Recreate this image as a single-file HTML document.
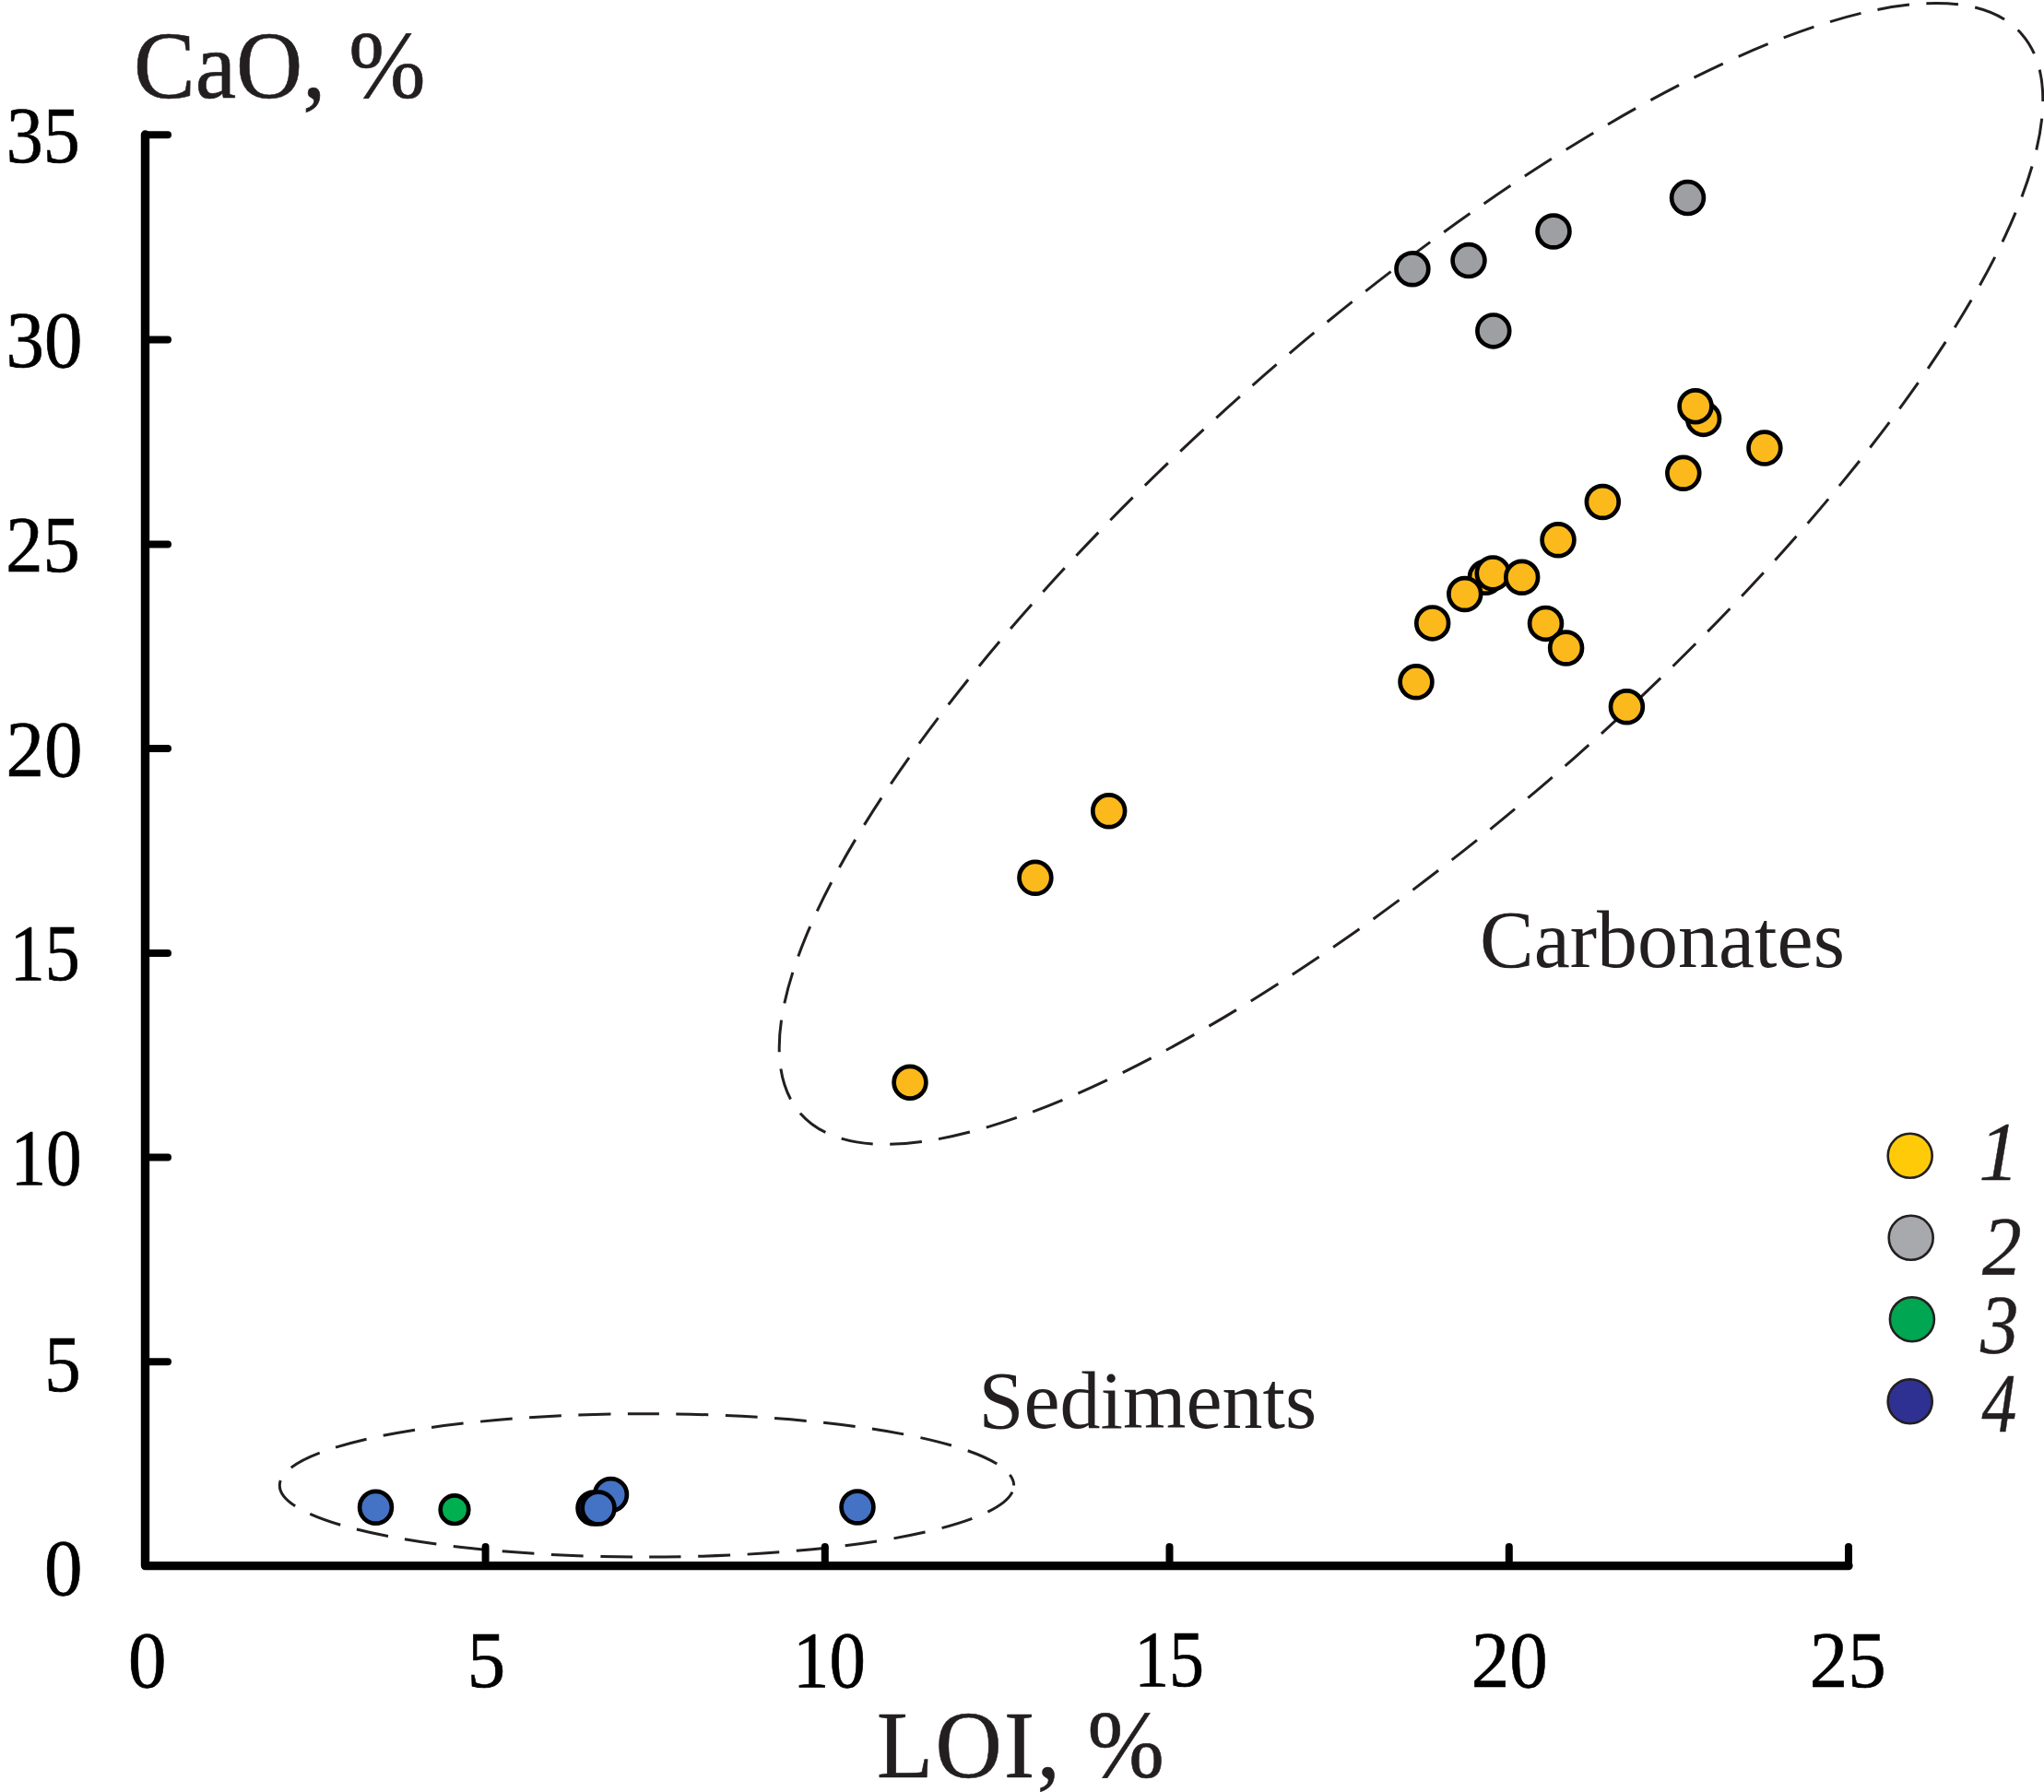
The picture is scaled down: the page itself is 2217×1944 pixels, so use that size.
<!DOCTYPE html>
<html lang="en"><head><meta charset="utf-8"><title>CaO vs LOI</title>
<style>
html,body{margin:0;padding:0;background:#fff;}
body{width:2217px;height:1944px;overflow:hidden;}
svg{display:block;}
text{font-family:"Liberation Serif","Times New Roman",serif;}
.tick{font-size:83px;fill:#000;stroke:#000;stroke-width:0.6px;}
.ttl{font-size:100px;fill:#231f20;stroke:#231f20;stroke-width:0.6px;}
.lab{font-size:88px;fill:#231f20;}
.leg{font-size:90px;font-style:italic;fill:#231f20;stroke:#231f20;stroke-width:0.5px;}
.ax{stroke:#000;stroke-width:9.4;fill:none;stroke-linecap:round;stroke-linejoin:round;}
.tk{stroke:#000;stroke-width:8;fill:none;stroke-linecap:round;}
.dash{stroke:#231f20;stroke-width:3;fill:none;stroke-dasharray:34.7 18.5;}
.y{fill:#fcb91c;stroke:#000;stroke-width:4.7;}
.g{fill:#9e9fa2;stroke:#000;stroke-width:4.7;}
.b{fill:#4472c4;stroke:#000;stroke-width:4.7;}
.gr{fill:#00b050;stroke:#000;stroke-width:4.7;}
.lg{stroke:#231f20;stroke-width:2.6;}
</style></head><body>
<svg width="2217" height="1944" viewBox="0 0 2217 1944">
<rect width="2217" height="1944" fill="#fff"/>
<ellipse class="dash" stroke-dashoffset="9" cx="1530.5" cy="622.4" rx="884" ry="267" transform="rotate(-41.5 1530.5 622.4)"/>
<ellipse class="dash" stroke-dashoffset="-7.5" cx="701.5" cy="1611.4" rx="398.2" ry="77.7"/>
<path class="ax" d="M157.5 146 V1698.6 H2005"/>
<path class="tk" d="M157.5 1477.3 H182"/>
<path class="tk" d="M157.5 1255.5 H182"/>
<path class="tk" d="M157.5 1034.0 H182"/>
<path class="tk" d="M157.5 812.1 H182"/>
<path class="tk" d="M157.5 590.4 H182"/>
<path class="tk" d="M157.5 368.5 H182"/>
<path class="tk" d="M157.5 146.2 H182"/>
<path class="tk" d="M526.6 1698.6 V1678"/>
<path class="tk" d="M894.8 1698.6 V1678"/>
<path class="tk" d="M1268.5 1698.6 V1678"/>
<path class="tk" d="M1636.8 1698.6 V1678"/>
<path class="tk" d="M2005 1698.6 V1678"/>
<text class="tick" transform="translate(89.6 1730.2) scale(1 1.055)" text-anchor="end">0</text>
<text class="tick" transform="translate(87.6 1508.9) scale(0.95 1.055)" text-anchor="end">5</text>
<text class="tick" transform="translate(88.7 1285.1) scale(0.93 1.055)" text-anchor="end">10</text>
<text class="tick" transform="translate(86.6 1063.4) scale(0.915 1.055)" text-anchor="end">15</text>
<text class="tick" transform="translate(89.6 841.7) scale(1 1.055)" text-anchor="end">20</text>
<text class="tick" transform="translate(86.8 620.0) scale(0.97 1.055)" text-anchor="end">25</text>
<text class="tick" transform="translate(89.6 398.1) scale(1 1.055)" text-anchor="end">30</text>
<text class="tick" transform="translate(86.8 176.3) scale(0.965 1.055)" text-anchor="end">35</text>
<text class="tick" transform="translate(159.8 1829.8) scale(1 1.055)" text-anchor="middle">0</text>
<text class="tick" transform="translate(527.5 1829.8) scale(1 1.055)" text-anchor="middle">5</text>
<text class="tick" transform="translate(899.5 1829.5) scale(0.95 1.055)" text-anchor="middle">10</text>
<text class="tick" transform="translate(1268.1 1828.8) scale(0.915 1.055)" text-anchor="middle">15</text>
<text class="tick" transform="translate(1637.3 1829.5) scale(1 1.055)" text-anchor="middle">20</text>
<text class="tick" transform="translate(2004.3 1829.5) scale(1 1.055)" text-anchor="middle">25</text>
<text class="ttl" transform="translate(145.0 105.7) scale(1 1.04)">CaO, %</text>
<text class="ttl" transform="translate(951.0 1927.5) scale(1 1.04)" letter-spacing="2.4">LOI, %</text>
<text class="lab" x="1605" y="1049">Carbonates</text>
<text class="lab" x="1061.5" y="1549">Sediments</text>
<circle class="g" cx="1531.9" cy="291.8" r="17.4"/>
<circle class="g" cx="1593" cy="282.6" r="17.4"/>
<circle class="g" cx="1685" cy="251" r="17.4"/>
<circle class="g" cx="1830.5" cy="214.6" r="17.4"/>
<circle class="g" cx="1619.8" cy="358.9" r="17.4"/>
<circle class="y" cx="1847.6" cy="454.4" r="17.4"/>
<circle class="y" cx="1839" cy="440.7" r="17.4"/>
<circle class="y" cx="1913.9" cy="486.1" r="17.4"/>
<circle class="y" cx="1825.8" cy="513.3" r="17.4"/>
<circle class="y" cx="1738.3" cy="544.5" r="17.4"/>
<circle class="y" cx="1690" cy="585.8" r="17.4"/>
<circle class="y" cx="1611.4" cy="626.3" r="17.4"/>
<circle class="y" cx="1588.8" cy="644.5" r="17.4"/>
<circle class="y" cx="1619.2" cy="621.9" r="17.4"/>
<circle class="y" cx="1650.7" cy="626.3" r="17.4"/>
<circle class="y" cx="1553.7" cy="675.9" r="17.4"/>
<circle class="y" cx="1676.5" cy="676.4" r="17.4"/>
<circle class="y" cx="1698.6" cy="703" r="17.4"/>
<circle class="y" cx="1536" cy="739.8" r="17.4"/>
<circle class="y" cx="1764.4" cy="766.8" r="17.4"/>
<circle class="y" cx="1202.7" cy="879.8" r="17.4"/>
<circle class="y" cx="1122.9" cy="952.3" r="17.4"/>
<circle class="y" cx="987" cy="1174.2" r="17.4"/>
<circle class="b" cx="407.5" cy="1635.3" r="17.4"/>
<circle class="gr" cx="493" cy="1637.7" r="15.3"/>
<circle class="b" cx="662.5" cy="1621.5" r="17.4"/>
<circle cx="644" cy="1636" r="17.4" fill="#1f2a5a" stroke="#000" stroke-width="4.7"/>
<circle class="b" cx="649.1" cy="1636" r="17.4"/>
<circle class="b" cx="930" cy="1635" r="17.4"/>
<circle class="lg" cx="2071.7" cy="1253.8" r="24" fill="#ffcb08"/>
<text class="leg" transform="translate(2146.5 1279.6) scale(0.96 1)">1</text>
<circle class="lg" cx="2072.7" cy="1342.8" r="24" fill="#a7a9ac"/>
<text class="leg" transform="translate(2150 1382.7) scale(0.95 1)">2</text>
<circle class="lg" cx="2073.9" cy="1431.2" r="24" fill="#00a651"/>
<text class="leg" transform="translate(2148 1467.5) scale(0.92 1)">3</text>
<circle class="lg" cx="2071.7" cy="1520.2" r="24" fill="#2e3192"/>
<text class="leg" transform="translate(2149.5 1552.5) scale(0.84 1)">4</text>
</svg></body></html>
